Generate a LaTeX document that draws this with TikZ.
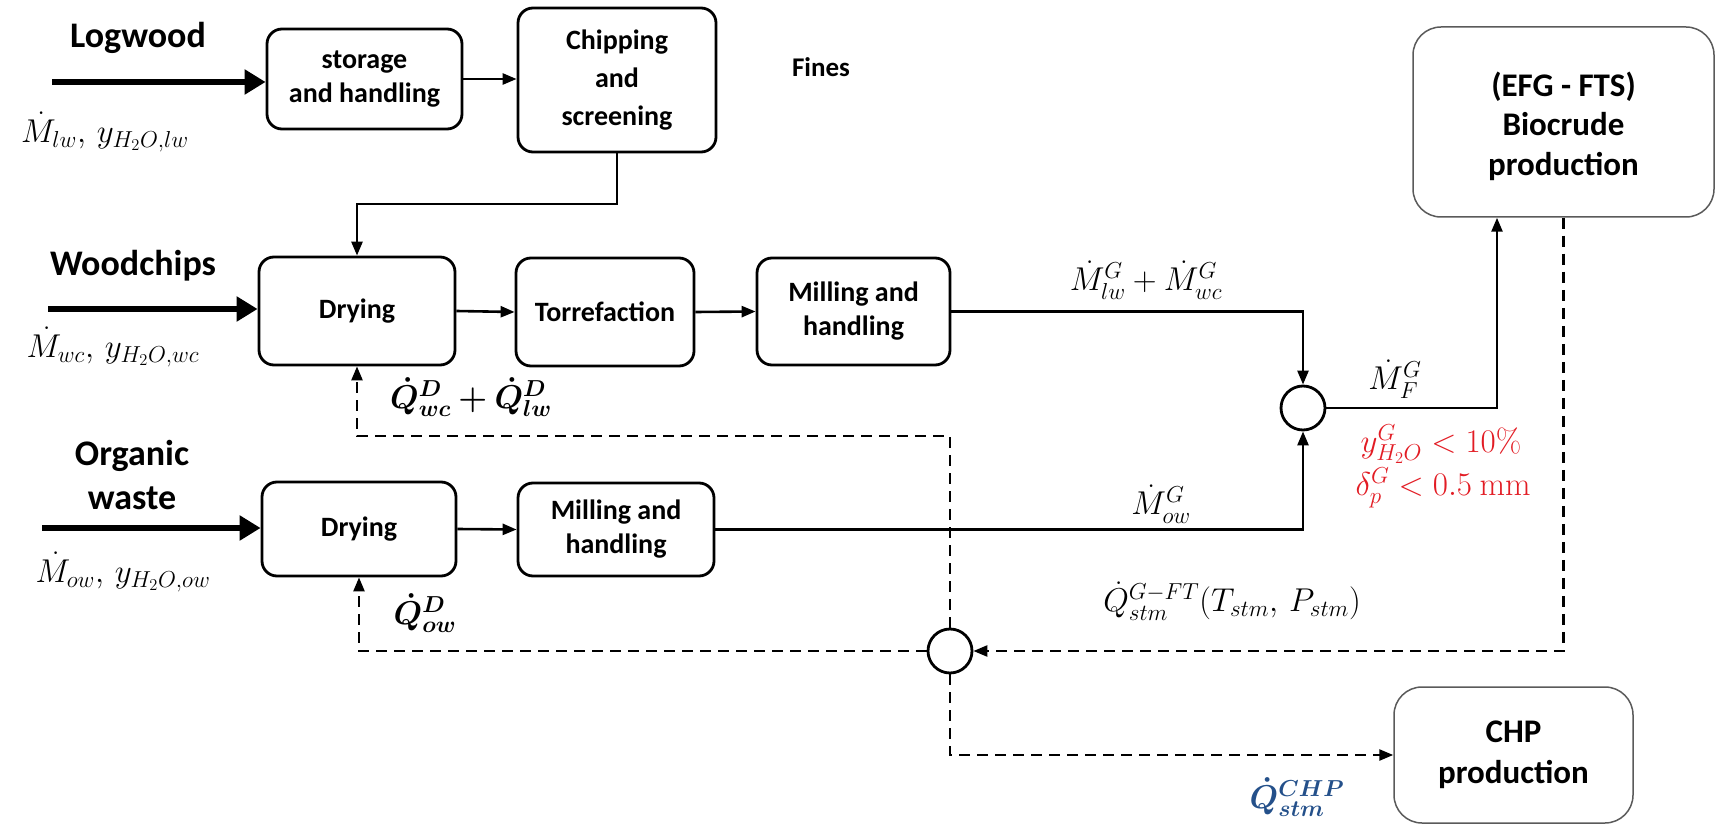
\RequirePackage{fix-cm}
\documentclass[tikz,border=0pt]{standalone}
\usepackage[no-math]{fontspec}
\setmainfont{Carlito}
\usepackage{amsmath,bm}
\usetikzlibrary{arrows.meta}

\definecolor{limitred}{RGB}{226,28,36}
\definecolor{steamblue}{RGB}{36,80,138}
\definecolor{unitgray}{RGB}{90,90,90}

\newcommand\procfont{\bfseries\fontsize{28}{34}\selectfont}
\newcommand\unitfont{\bfseries\fontsize{33}{39.5}\selectfont}
\newcommand\feedfont{\bfseries\fontsize{36}{44}\selectfont}
\newcommand\mlabfont{\fontsize{33}{40}\selectfont}

\begin{document}
\begin{tikzpicture}[x=1pt,y=-1pt,
  proc/.style={draw, line width=2.8pt, rounded corners=15pt, align=center,
    font=\procfont, inner sep=0pt},
  unit/.style={draw=unitgray, line width=1.5pt, rounded corners=28pt, align=center,
    font=\unitfont, inner sep=0pt},
  mixer/.style={draw, circle, line width=2.8pt, minimum size=44pt, inner sep=0pt},
  feedtxt/.style={font=\feedfont, align=center, inner sep=0pt},
  mlab/.style={font=\mlabfont, inner sep=0pt},
  flow/.style={line width=2.6pt, -{Triangle[length=14pt,width=11pt]}},
  feed/.style={line width=6.5pt, -{Triangle[length=21pt,width=24pt]}},
  steam/.style={line width=2.5pt, dash pattern=on 11pt off 7pt,
    -{Triangle[length=14pt,width=11pt]}},
]
\useasboundingbox (0,0) rectangle (1718,826);

% process units
\node[proc, minimum width=195pt, minimum height=100pt] (storage) at (364.5,79) {storage\\and handling};
\node[proc, minimum width=198pt, minimum height=144pt, font=\bfseries\fontsize{28}{38}\selectfont] (chipping) at (617,80) {Chipping\\and\\screening};
\node[proc, minimum width=196pt, minimum height=108pt] (dry1) at (357,311) {Drying};
\node[proc, minimum width=178pt, minimum height=108pt] (torr) at (605,312) {Torrefaction};
\node[proc, minimum width=193pt, minimum height=107pt] (mill1) at (853.5,311.5) {Milling and\\handling};
\node[proc, minimum width=194pt, minimum height=94pt] (dry2) at (359,529) {Drying};
\node[proc, minimum width=196pt, minimum height=93pt] (mill2) at (616,529.5) {Milling and\\handling};
\node[unit, minimum width=301pt, minimum height=190pt] (bio) at (1563.5,122) {};
\node[font=\unitfont, align=center, inner sep=0pt] (biotxt) at (1563.5,126) {(EFG - FTS)\\Biocrude\\production};
\node[unit, minimum width=239pt, minimum height=136pt, font=\bfseries\fontsize{33}{41}\selectfont] (chp) at (1513.5,755) {CHP\\production};
\node[mixer] (c1) at (1303,408) {};
\node[mixer] (c2) at (950,651) {};

% feedstock names
\node[feedtxt] (tlw) at (138,38) {Logwood};
\node[feedtxt] (twc) at (133,266) {Woodchips};
\node[feedtxt] (tow) at (132,475) {Organic\\waste};
\node[font=\bfseries\fontsize{27}{32}\selectfont, inner sep=0pt] (fines) at (821,67) {Fines};

% feedstock inlets
\coordinate (inlw) at (52,82);
\coordinate (inwc) at (48,309);
\coordinate (inow) at (42,528);
\draw[feed] (inlw) -- (inlw -| storage.west);
\draw[feed] (inwc) -- (inwc -| dry1.west);
\draw[feed] (inow) -- (inow -| dry2.west);

% solid material flows
\coordinate (jchip) at (0,204);
\draw[flow] (storage.east) -- (storage.east -| chipping.west);
\draw[flow] (chipping.south) -- (chipping.south |- jchip) -| (dry1.north);
\draw[flow] (dry1.east) -- (torr.west);
\draw[flow] (torr.east) -- (mill1.west);
\draw[flow] (dry2.east) -- (mill2.west);
\draw[flow] (mill1.east) -| (c1.north);
\draw[flow] (mill2.east) -| (c1.south);
\draw[flow] (c1.east) -| ([xshift=-66.5pt]bio.south);

% steam / heat flows
\coordinate (jheat) at (0,436);
\draw[steam] (bio.south) |- (c2.east);
\draw[steam] (c2.north) -- (c2.north |- jheat) -| (dry1.south);
\draw[steam] (c2.west) -| (dry2.south);
\draw[steam] (c2.south) |- (chp.west);

% stream labels
\node[mlab] (mlw) at (105,132) {$\dot{M}_{lw},\, y_{H_2O,lw}$};
\node[mlab] (mwc) at (113,347) {$\dot{M}_{wc},\, y_{H_2O,wc}$};
\node[mlab] (mow) at (123,572) {$\dot{M}_{ow},\, y_{H_2O,ow}$};
\node[mlab] (qd1) at (471,397) {$\bm{\dot{Q}^{D}_{wc}+\dot{Q}^{D}_{lw}}$};
\node[mlab] (qd2) at (425,613) {$\bm{\dot{Q}^{D}_{ow}}$};
\node[mlab] (mg1) at (1146,280) {$\dot{M}^{G}_{lw}+\dot{M}^{G}_{wc}$};
\node[mlab] (mgf) at (1395,379) {$\dot{M}^{G}_{F}$};
\node[mlab] (mgo) at (1161,504) {$\dot{M}^{G}_{ow}$};
\node[mlab, text=limitred] (spec1) at (1441,444) {$y^{G}_{H_2O} < 10\%$};
\node[mlab, text=limitred] (spec2) at (1443,488) {$\delta^{G}_{p} < 0.5~\mathrm{mm}$};
\node[mlab] (qft) at (1232,601) {$\dot{Q}^{G-FT}_{stm}(T_{stm},\, P_{stm})$};
\node[mlab, text=steamblue] (qchp) at (1297,797) {$\bm{\dot{Q}^{CHP}_{stm}}$};
\end{tikzpicture}
\end{document}
